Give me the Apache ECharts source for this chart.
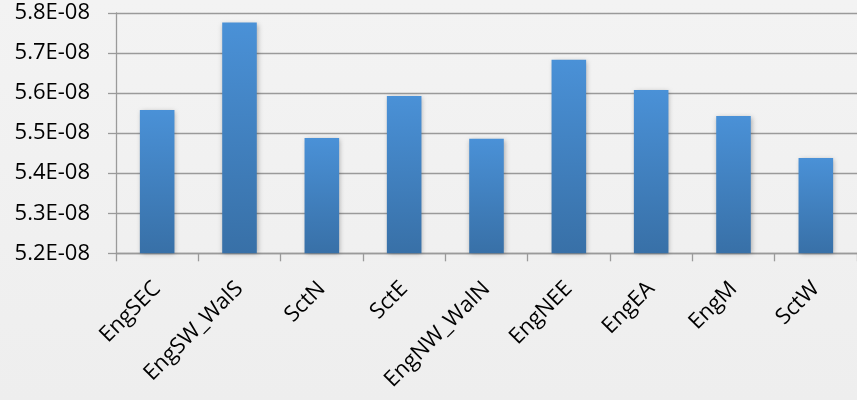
<!DOCTYPE html>
<html><head><meta charset="utf-8">
<script src="https://cdn.jsdelivr.net/npm/echarts@6/dist/echarts.min.js"></script>
<style>html,body{margin:0;padding:0;}#c{width:857px;height:400px;}</style>
</head><body><div id="c"></div>
<script>
var categories = ['EngSEC','EngSW_WalS','SctN','SctE','EngNW_WalN','EngNEE','EngEA','EngM','SctW'];
var values = [5.558e-8, 5.776e-8, 5.488e-8, 5.593e-8, 5.486e-8, 5.683e-8, 5.608e-8, 5.543e-8, 5.438e-8];
var yMin = 5.2e-8, yMax = 5.8e-8, yStep = 1e-9;

var chart = echarts.init(document.getElementById('c'), null, {renderer:'canvas'});
chart.setOption({
  animation: false,
  backgroundColor: {type:'linear', x:0, y:0, x2:0, y2:1, colorStops:[{offset:0,color:'#f3f3f3'},{offset:1,color:'#eeeeee'}]},
  grid: {left:116, top:13, bottom:146.7, right:-6.6, containLabel:false},
  xAxis: {
    type:'category', data: categories,
    axisLine:{show:true, lineStyle:{color:'#9a9a9a', width:1.3}},
    axisTick:{show:true, alignWithLabel:false, length:8, lineStyle:{color:'#9a9a9a', width:1.3}},
    axisLabel:{rotate:45, interval:0, margin:32, color:'#000', fontFamily:'Open Sans', fontSize:22}
  },
  yAxis: {
    type:'value', min:yMin, max:yMax, interval:yStep,
    axisLine:{show:true, lineStyle:{color:'#9a9a9a', width:1.3}},
    axisTick:{show:true, length:8, lineStyle:{color:'#9a9a9a', width:1.3}},
    splitLine:{show:true, lineStyle:{color:'#9a9a9a', width:1.3}},
    axisLabel:{margin:26, color:'#000', fontFamily:'Open Sans', fontSize:22,
      formatter:function(v){ return (v*1e8).toFixed(1)+'E-08'; }}
  },
  series: [{
    type:'bar', data: values, barWidth:'42%',
    itemStyle:{
      color:{type:'linear', x:0, y:0, x2:0, y2:1, global:false, colorStops:[{offset:0,color:'#4a91d7'},{offset:1,color:'#3870a7'}]},
      shadowBlur:5, shadowColor:'rgba(0,0,0,0.3)', shadowOffsetX:1, shadowOffsetY:1
    }
  }]
});
</script></body></html>
